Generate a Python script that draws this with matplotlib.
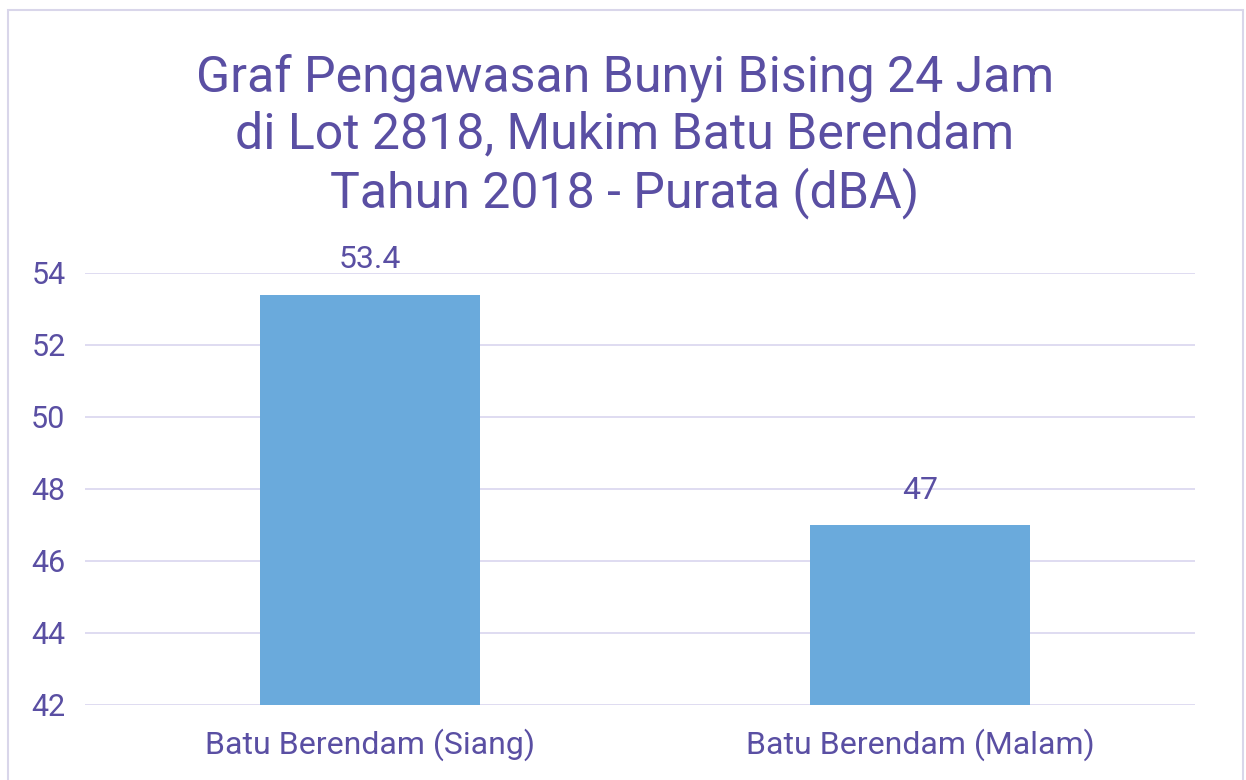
from matplotlib import pyplot as plt
from matplotlib.patches import Rectangle

categories = ['Batu Berendam (Siang)', 'Batu Berendam (Malam)']
values = [53.4, 47]
value_labels = ['53.4', '47']
yticks = [42, 44, 46, 48, 50, 52, 54]

text_color = '#5a4fa3'
bar_color = '#6aaadc'
grid_color = '#dcd9f0'

plt.rcParams['font.family'] = ['Roboto', 'DejaVu Sans']

fig = plt.figure(figsize=(12.46, 7.8), dpi=100)
W, H = 1246, 780

# outer frame of the chart
fig.patches.append(Rectangle((8 / W, -0.01), (1243 - 8) / W, 1.01 - 10 / H,
                             transform=fig.transFigure, fill=False,
                             edgecolor='#d9d6ea', linewidth=1.5))

ax = fig.add_axes([85 / W, (H - 705) / H, (1195 - 85) / W, (705 - 273) / H])
x = range(len(categories))
ax.bar(x, values, width=0.4, color=bar_color, zorder=3)

ax.set_ylim(42, 54)
ax.set_xlim(-0.518, 1.5)
ax.set_yticks(yticks)
ax.set_yticklabels([str(t) for t in yticks], fontsize=22, color=text_color)
ax.set_xticks(list(x))
ax.set_xticklabels(categories, fontsize=23, color=text_color)
ax.tick_params(axis='both', length=0)
ax.tick_params(axis='y', pad=14)
ax.tick_params(axis='x', pad=17)
ax.grid(axis='y', color=grid_color, linewidth=1.3, zorder=0)
for s in ax.spines.values():
    s.set_visible(False)

for xi, v, lab in zip(x, values, value_labels):
    ax.annotate(lab, (xi, v), xytext=(0, 19), textcoords='offset points',
                ha='center', va='baseline', fontsize=23, color=text_color)

fig.text(625 / W, 1 - 136 / H,
         'Graf Pengawasan Bunyi Bising 24 Jam\ndi Lot 2818, Mukim Batu Berendam\nTahun 2018 - Purata (dBA)',
         ha='center', va='center', fontsize=36, color=text_color, linespacing=1.22)

fig.savefig('out.png', dpi=100)
